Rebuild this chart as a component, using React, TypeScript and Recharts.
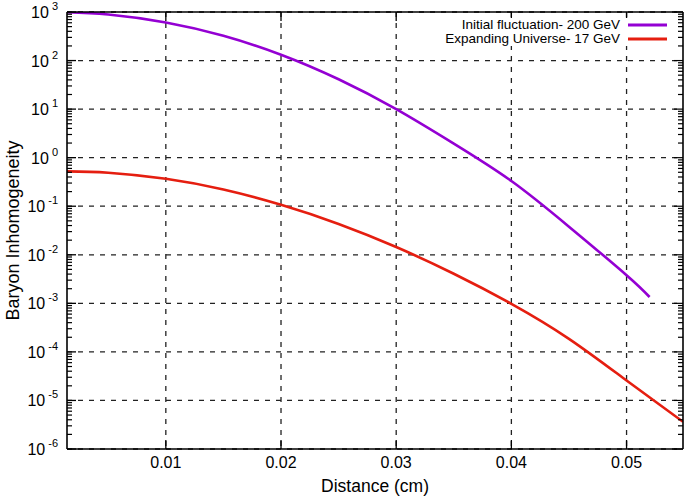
import React from "react";
import { CartesianGrid, Label, Line, LineChart, XAxis, YAxis } from "recharts";

// distances (cm)
const distance = [0.0014, 0.005, 0.01, 0.015, 0.02, 0.025, 0.03, 0.035, 0.04, 0.045, 0.05];
const initialX = [...distance, 0.052];
const initialValues = [990, 891, 610, 324, 132, 41.2, 10, 1.95, 0.331, 0.038, 0.0038, 0.00135];
const expandingX = [...distance, 0.0549];
const expandingValues = [0.522, 0.49, 0.367, 0.221, 0.107, 0.0432, 0.01445, 0.00407, 0.000977, 0.000186, 0.0000257, 0.00000363];

const seriesNames = ["Initial fluctuation- 200 GeV", "Expanding Universe- 17 GeV"];
const seriesColors = ["#9400d3", "#e51e10"];

const xTicks = [0.01, 0.02, 0.03, 0.04, 0.05];
const yTicks = [1e-6, 1e-5, 1e-4, 1e-3, 1e-2, 1e-1, 1e0, 1e1, 1e2, 1e3];
const minorSteps = [2, 3, 4, 5, 6, 7, 8, 9];
const yMinorTicks = yTicks.slice(0, -1).flatMap((d) => minorSteps.map((m) => m * d));

const xDomain = [0.00142, 0.0549];
const yDomain = [1e-6, 1e3];

const initialData = initialX.map((x, i) => ({ x, y: initialValues[i] }));
const expandingData = expandingX.map((x, i) => ({ x, y: expandingValues[i] }));

const FONT = "'Liberation Sans', Arial, sans-serif";

const isDecade = (v: number) => {
    const l = Math.log10(v);
    return Math.abs(l - Math.round(l)) < 1e-6;
};

const LeftTick = (props: any) => {
    const { x, y, payload } = props;
    if (!isDecade(payload.value)) {
        return (
            <g>
                <line x1={x} x2={x + 5} y1={y} y2={y} stroke="#000" strokeWidth={1.2} />
            </g>
        );
    }
    const exp = Math.round(Math.log10(payload.value));
    return (
        <g>
            <line x1={x} x2={x + 9} y1={y} y2={y} stroke="#000" strokeWidth={1.3} />
            <text x={x - 9} y={y + 6} textAnchor="end" fontSize={16} fontFamily={FONT} fill="#000">
                <tspan>10</tspan>
                <tspan dx={3} dy={-8} fontSize={11}>{exp}</tspan>
            </text>
        </g>
    );
};

const RightTick = (props: any) => {
    const { x, y, payload } = props;
    const len = isDecade(payload.value) ? 9 : 5;
    return (
        <g>
            <line x1={x} x2={x - len} y1={y} y2={y} stroke="#000" strokeWidth={1.2} />
        </g>
    );
};

const BottomTick = (props: any) => {
    const { x, y, payload } = props;
    return (
        <g>
            <line x1={x} x2={x} y1={y} y2={y - 9} stroke="#000" strokeWidth={1.3} />
            <text x={x} y={y + 19} textAnchor="middle" fontSize={16} fontFamily={FONT} fill="#000">
                {payload.value}
            </text>
        </g>
    );
};

const TopTick = (props: any) => {
    const { x, y } = props;
    return (
        <g>
            <line x1={x} x2={x} y1={y} y2={y + 9} stroke="#000" strokeWidth={1.3} />
        </g>
    );
};

const App = () => {
    return (
        <div style={{ position: "absolute", left: 0, top: 0, width: 685, height: 499, background: "#fff" }}>
            <LineChart width={685} height={499} margin={{ top: 11, right: 1, left: 0, bottom: 0 }}>
                <CartesianGrid
                    stroke="#222"
                    strokeWidth={1.3}
                    strokeDasharray="5 6"
                    horizontalValues={yTicks}
                    verticalValues={xTicks}
                />
                <XAxis
                    dataKey="x"
                    type="number"
                    domain={xDomain}
                    allowDataOverflow
                    ticks={xTicks}
                    interval={0}
                    height={50}
                    tickSize={0}
                    tickMargin={0}
                    tickLine={false}
                    axisLine={{ stroke: "#000", strokeWidth: 1.6 }}
                    tick={<BottomTick />}
                >
                    <Label
                        content={({ viewBox }: any) => (
                            <text
                                x={viewBox.x + viewBox.width / 2}
                                y={viewBox.y + 43}
                                textAnchor="middle"
                                fontSize={17.5}
                                fontFamily={FONT}
                                fill="#000"
                            >
                                Distance (cm)
                            </text>
                        )}
                    />
                </XAxis>
                <XAxis
                    xAxisId="top"
                    orientation="top"
                    dataKey="x"
                    type="number"
                    domain={xDomain}
                    allowDataOverflow
                    ticks={xTicks}
                    interval={0}
                    height={1}
                    tickSize={0}
                    tickMargin={0}
                    tickLine={false}
                    axisLine={{ stroke: "#000", strokeWidth: 1.6 }}
                    tick={<TopTick />}
                />
                <YAxis
                    scale="log"
                    domain={yDomain}
                    allowDataOverflow
                    ticks={[...yTicks, ...yMinorTicks]}
                    interval={0}
                    width={67}
                    tickSize={0}
                    tickMargin={0}
                    tickLine={false}
                    axisLine={{ stroke: "#000", strokeWidth: 1.6 }}
                    tick={<LeftTick />}
                >
                    <Label
                        content={({ viewBox }: any) => {
                            const cx = viewBox.x + 19;
                            const cy = viewBox.y + viewBox.height / 2;
                            return (
                                <text
                                    x={cx}
                                    y={cy}
                                    transform={`rotate(-90, ${cx}, ${cy})`}
                                    textAnchor="middle"
                                    fontSize={18}
                                    fontFamily={FONT}
                                    fill="#000"
                                >
                                    Baryon Inhomogeneity
                                </text>
                            );
                        }}
                    />
                </YAxis>
                <YAxis
                    yAxisId="r"
                    orientation="right"
                    scale="log"
                    domain={yDomain}
                    allowDataOverflow
                    ticks={[...yTicks, ...yMinorTicks]}
                    interval={0}
                    width={1}
                    tickSize={0}
                    tickMargin={0}
                    tickLine={false}
                    axisLine={{ stroke: "#000", strokeWidth: 1.6 }}
                    tick={<RightTick />}
                />
                <Line
                    data={initialData}
                    dataKey="y"
                    name={seriesNames[0]}
                    type="natural"
                    stroke={seriesColors[0]}
                    strokeWidth={2.6}
                    dot={false}
                    isAnimationActive={false}
                />
                <Line
                    data={expandingData}
                    dataKey="y"
                    name={seriesNames[1]}
                    type="natural"
                    stroke={seriesColors[1]}
                    strokeWidth={2.6}
                    dot={false}
                    isAnimationActive={false}
                />
            </LineChart>
            <div
                style={{
                    position: "absolute",
                    top: 18,
                    right: 18,
                    fontFamily: FONT,
                    fontSize: 13.5,
                    lineHeight: "14px",
                    background: "#fff",
                }}
            >
                {seriesNames.map((name, i) => (
                    <div key={name} style={{ display: "flex", alignItems: "center", justifyContent: "flex-end" }}>
                        <span>{name}</span>
                        <svg width={39} height={4} style={{ marginLeft: 8 }}>
                            <line x1={0} x2={39} y1={2} y2={2} stroke={seriesColors[i]} strokeWidth={3} />
                        </svg>
                    </div>
                ))}
            </div>
        </div>
    );
};

export default App;
